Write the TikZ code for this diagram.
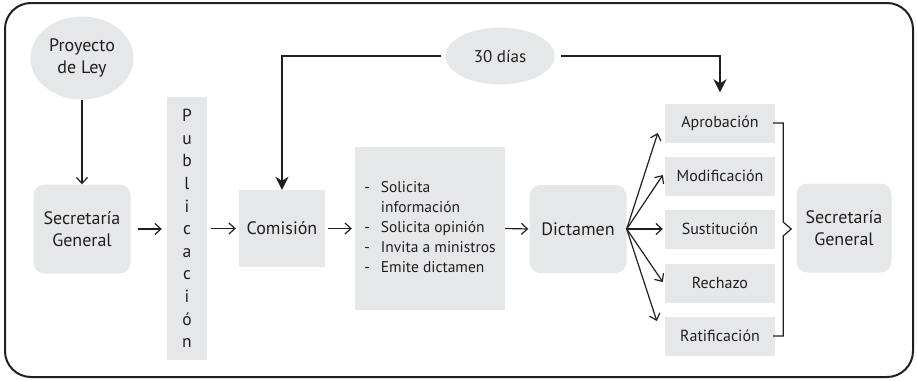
\documentclass[tikz,border=0pt]{standalone}
\usepackage{fontspec}
\setmainfont{PT Sans}
\usetikzlibrary{arrows.meta,shapes.geometric}
\definecolor{boxgray}{HTML}{E6E7E8}
\definecolor{inkgray}{HTML}{231F20}

\tikzset{
  box/.style={fill=boxgray,text=inkgray,align=center,inner sep=0pt},
  rbox/.style={box,rounded corners=11pt},
  oval/.style={box,ellipse},
  flow/.style={->,line width=1.2pt,draw=inkgray},
  back/.style={-{Stealth[length=13pt,width=13pt,inset=4pt]},line width=2.6pt,draw=inkgray},
  brace/.style={line width=1.2pt,draw=inkgray}
}

\begin{document}
\begin{tikzpicture}[x=1pt,y=-1pt,>={Straight Barb[length=6pt,width=11pt]},
  font=\fontsize{18}{22}\selectfont]
  \useasboundingbox (0,0) rectangle (917,380);
  \draw[line width=2pt,inkgray,rounded corners=26pt] (5,3) rectangle (913,377);

  % left part
  \node[oval,minimum width=103pt,minimum height=83pt] (ley) at (82,58) {Proyecto\\de Ley};
  \node[rbox,minimum width=97pt,minimum height=89pt] (sg1) at (82,229) {Secretaría\\General};
  \node[box,minimum width=40pt,minimum height=263pt,font=\fontsize{17.5}{22.6}\selectfont] (pub) at (187,228.5)
    {P\\u\\b\\l\\i\\c\\a\\c\\i\\ó\\n};
  \node[box,minimum width=86pt,minimum height=77pt] (com) at (282,228.5) {Comisión};
  \node[box,minimum width=150pt,minimum height=163pt,font=\fontsize{15.5}{20}\selectfont] (tareas) at (430,228.5)
    {\begin{tabular}{@{}l@{\hspace{11pt}}l@{}}
      - & Solicita\\
        & información\\
      - & Solicita opinión\\
      - & Invita a ministros\\
      - & Emite dictamen
    \end{tabular}};
  \node[rbox,minimum width=97pt,minimum height=88pt] (dict) at (578,229) {Dictamen};

  % resultados
  \begin{scope}[every node/.style={box,minimum width=110pt,minimum height=39pt,font=\fontsize{16}{19}\selectfont}]
    \node (apr) at (720,123) {Aprobación};
    \node (mod) at (720,176) {Modificación};
    \node (sus) at (720,229) {Sustitución};
    \node (rec) at (720,283) {Rechazo};
    \node (rat) at (720,336) {Ratificación};
  \end{scope}
  \node[rbox,minimum width=95pt,minimum height=89pt] (sg2) at (844,228) {Secretaría\\General};
  \node[oval,minimum width=109pt,minimum height=57pt,font=\fontsize{17}{21}\selectfont] (dias) at (500,56) {30 días};

  \draw[flow] (ley) -- (sg1);
  \draw[flow,shorten <=7pt,shorten >=5pt] (sg1.east) -- (sg1.east -| pub.west);
  \draw[flow,shorten <=4pt,shorten >=3pt] (pub.east |- com.east) -- (com.west);
  \draw[flow,shorten <=3pt,shorten >=3pt] (com.east) -- (com.east -| tareas.west);
  \draw[flow,shorten >=1pt] (com.east -| tareas.east) -- (dict.west);

  \draw[flow] (dict.east) -- ([shift={(-7,10)}]apr.west);
  \draw[flow] (dict.east) -- ([shift={(-2,-1)}]mod.west);
  \draw[flow] (dict.east) -- ([xshift=-2pt]sus.west);
  \draw[flow] (dict.east) -- ([shift={(-2,-1)}]rec.west);
  \draw[flow] (dict.east) -- ([shift={(-8,-15)}]rat.west);

  \draw[brace] ([xshift=-2pt]apr.east) -- ++(10,0) -- ++(0,99) -- ++(8,7) -- ++(-8,7) -- ++(0,100) -- ++(-10,0);

  \draw[back,shorten <=4pt] (dias.west) -| (com.north);
  \draw[back,shorten <=6pt] (dias.east) -| ([yshift=11pt]apr.north);
\end{tikzpicture}
\end{document}
